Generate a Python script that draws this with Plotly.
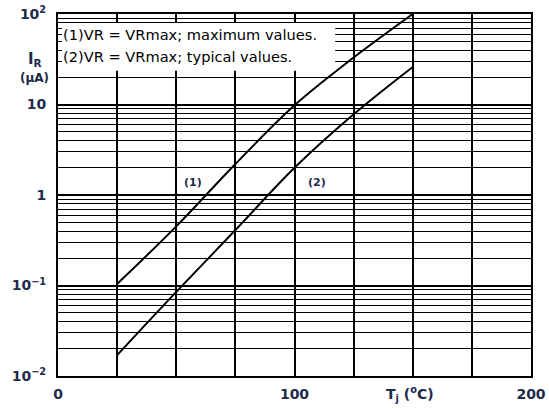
import plotly.graph_objects as go

# Data
tj = [25, 50, 75, 100, 125, 150]
ir_max = [0.104, 0.45, 2.2, 9.8, 33, 100]      # (1) maximum values
ir_typ = [0.017, 0.085, 0.41, 2.0, 7.8, 26]    # (2) typical values

x_grid = [0, 25, 50, 75, 100, 125, 150, 175, 200]
x_labels = ["0", "", "", "", "100", "", "", "", "200"]
y_major = [0.01, 0.1, 1, 10, 100]
y_labels = ["10<sup>−2</sup>", "10<sup>−1</sup>", "1", "10", "10<sup>2</sup>"]
y_minor = [k * d for d in [0.01, 0.1, 1, 10] for k in range(2, 10)]

legend_lines = ["(1)VR = VRmax; maximum values.", "(2)VR = VRmax; typical values."]

label_col = "#1f2a4a"
fam = "DejaVu Sans, sans-serif"
tick_font = dict(size=14, color=label_col, family=fam, weight="bold")

fig = go.Figure()
fig.add_trace(go.Scatter(x=tj, y=ir_max, mode="lines",
                         line=dict(color="black", width=2, shape="spline")))
fig.add_trace(go.Scatter(x=tj, y=ir_typ, mode="lines",
                         line=dict(color="black", width=2, shape="spline")))

fig.update_layout(
    width=549, height=408,
    margin=dict(l=58, r=18, t=14, b=32),
    paper_bgcolor="white", plot_bgcolor="white",
    showlegend=False,
    font=dict(family=fam, color=label_col),
)
fig.update_xaxes(range=[0, 200], tickvals=x_grid, ticktext=x_labels,
                 showgrid=True, gridcolor="black", gridwidth=1.6,
                 showline=True, linecolor="black", linewidth=2, mirror=True,
                 ticks="", zeroline=False, automargin=False, ticklabelstandoff=4,
                 tickfont=tick_font)
fig.update_yaxes(type="log", range=[-2, 2], tickvals=y_major, ticktext=y_labels,
                 showgrid=True, gridcolor="black", gridwidth=1.6,
                 showline=True, linecolor="black", linewidth=2, mirror=True,
                 ticks="", zeroline=False, automargin=False, ticklabelstandoff=7,
                 minor=dict(tickvals=y_minor, showgrid=True, gridcolor="black", gridwidth=1.3, ticks=""),
                 tickfont=tick_font)

# white legend box
fig.add_shape(type="rect", xref="paper", yref="paper",
              x0=0.008, x1=0.586, y0=0.843, y1=0.975,
              fillcolor="white", line=dict(width=0), layer="above")
fig.add_annotation(xref="paper", yref="paper", x=0.006, y=0.942, text=legend_lines[0],
                   showarrow=False, xanchor="left", yanchor="middle",
                   font=dict(size=14.6, color="black", family=fam))
fig.add_annotation(xref="paper", yref="paper", x=0.006, y=0.882, text=legend_lines[1],
                   showarrow=False, xanchor="left", yanchor="middle",
                   font=dict(size=14.6, color="black", family=fam))

# curve labels
fig.add_annotation(x=57, y=0.133, yref="y", text="(1)", showarrow=False,
                   font=dict(size=11, color=label_col, family=fam, weight="bold"))
fig.add_annotation(x=109.5, y=0.133, yref="y", text="(2)", showarrow=False,
                   font=dict(size=11, color=label_col, family=fam, weight="bold"))

# axis titles
fig.add_annotation(xref="paper", yref="paper", x=-0.048, y=0.875, text="I<sub>R</sub>",
                   showarrow=False, xanchor="center", yanchor="middle",
                   font=dict(size=15, color=label_col, family=fam, weight="bold"))
fig.add_annotation(xref="paper", yref="paper", x=-0.05, y=0.822, text="(µA)",
                   showarrow=False, xanchor="center", yanchor="middle",
                   font=dict(size=12, color=label_col, family=fam, weight="bold"))
fig.add_annotation(xref="paper", yref="paper", x=0.745, y=-0.05, text="T<sub>j</sub> (<sup>o</sup>C)",
                   showarrow=False, xanchor="center", yanchor="middle",
                   font=dict(size=14, color=label_col, family=fam, weight="bold"))

fig.write_html("out.html", config={"displayModeBar": False},
               post_script="document.body.style.margin='0';")
